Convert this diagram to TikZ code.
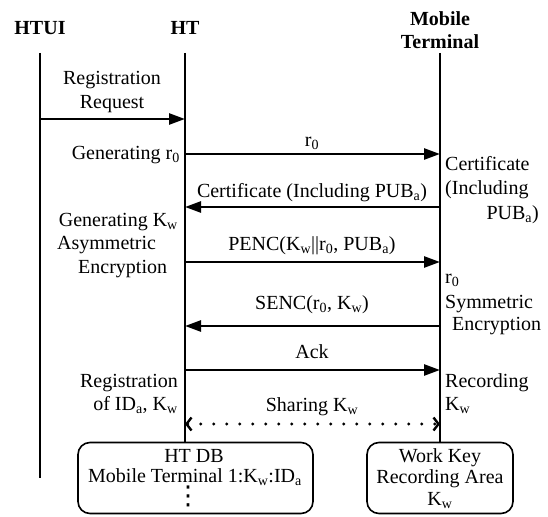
\documentclass[tikz,border=0pt]{standalone}
\usepackage{fontspec}
\setmainfont{Liberation Serif}
\newfontfamily\dvsans{DejaVu Sans}
\usetikzlibrary{arrows.meta}
\begin{document}
\begin{tikzpicture}[x=1pt,y=-1pt,
  txt/.style={inner sep=0pt,font=\fontsize{20}{24}\selectfont,text height=14pt,text depth=4pt},
  hdr/.style={inner sep=0pt,font=\fontsize{20}{24}\selectfont\bfseries,align=center},
  life/.style={line width=2.6pt},
  msg/.style={line width=2.6pt,-{Triangle[length=16pt,width=11pt]}},
  share/.style={line width=3.4pt,dash pattern=on 0pt off 13pt,line cap=round,
    {Straight Barb[length=5pt,width=13pt,line width=2.4pt]}-{Straight Barb[length=5pt,width=13pt,line width=2.4pt]}},
  dbbox/.style={draw,line width=1.6pt,rounded corners=12pt,inner sep=0pt}]
\useasboundingbox (0,0) rectangle (548,516);

% headers
\node[hdr] (htui) at (40,28) {HTUI};
\node[hdr] (ht) at (185,28) {HT};
\node[hdr] (mt) at (440,30) {Mobile\\[-1pt]Terminal};

% boxes
\node[dbbox,minimum width=235pt,minimum height=71pt] (htdb) at (195.5,478) {};
\node[dbbox,minimum width=146pt,minimum height=71pt] (wk) at (440,478) {};
\node[txt] (db1) at (194,457) {HT DB};
\node[txt] (db2) at (195,477) {Mobile Terminal 1:K\textsubscript{w}:ID\textsubscript{a}};
\node[inner sep=0pt,font=\dvsans\fontsize{26}{26}\selectfont] (db3) at (188,496) {⋮};
\node[txt] (wk1) at (440,457) {Work Key};
\node[txt] (wk2) at (440,478) {Recording Area};
\node[txt] (wk3) at (440,500) {K\textsubscript{w}};

% lifelines
\coordinate (htuiT) at (40,53);
\coordinate (htuiB) at (40,478);
\coordinate (htT) at (185,53);
\coordinate (mtT) at (440,53);
\draw[life] (htuiT) -- (htuiB);
\draw[life] (htT) -- (htT |- htdb.north);
\draw[life] (mtT) -- (mtT |- wk.north);

% message levels
\coordinate (u1) at (40,119);  \coordinate (h1) at (185,119);
\coordinate (h2) at (185,154); \coordinate (m2) at (440,154);
\coordinate (h3) at (185,207); \coordinate (m3) at (440,207);
\coordinate (h4) at (185,262); \coordinate (m4) at (440,262);
\coordinate (h5) at (185,326); \coordinate (m5) at (440,326);
\coordinate (h6) at (185,370); \coordinate (m6) at (440,370);
\coordinate (h7) at (185,424); \coordinate (m7) at (440,424);

\draw[msg] (u1) -- (h1);
\draw[msg] (h2) -- (m2);
\draw[msg] (m3) -- (h3);
\draw[msg] (h4) -- (m4);
\draw[msg] (m5) -- (h5);
\draw[msg] (h6) -- (m6);
\draw[share] (h7) -- (m7);

% message labels
\node[txt] (l1a) at (112,80) {Registration};
\node[txt] (l1b) at (112,104) {Request};
\node[txt] (l2) at (312,141) {r\textsubscript{0}};
\node[txt] (l3) at (312,192) {Certificate (Including PUB\textsubscript{a})};
\node[txt] (l4) at (312,245) {PENC(K\textsubscript{w}||r\textsubscript{0}, PUB\textsubscript{a})};
\node[txt] (l5) at (312,304) {SENC(r\textsubscript{0}, K\textsubscript{w})};
\node[txt] (l6) at (312,353) {Ack};
\node[txt] (l7) at (312,406) {Sharing K\textsubscript{w}};

% HT side notes
\node[txt,anchor=east] (n1) at (180,154) {Generating r\textsubscript{0}};
\node[txt,anchor=east] (n2) at (178,221) {Generating K\textsubscript{w}};
\node[txt,anchor=west] (n3) at (57,244) {Asymmetric};
\node[txt,anchor=west] (n4) at (78,268) {Encryption};
\node[txt,anchor=east] (n5) at (178,382) {Registration};
\node[txt,anchor=east] (n6) at (178,405) {of ID\textsubscript{a}, K\textsubscript{w}};

% Mobile terminal side notes
\node[txt,anchor=west] (r1) at (445,165) {Certificate};
\node[txt,anchor=west] (r2) at (445,189) {(Including};
\node[txt,anchor=east] (r3) at (539,214) {PUB\textsubscript{a})};
\node[txt,anchor=west] (r4) at (445,278) {r\textsubscript{0}};
\node[txt,anchor=west] (r5) at (445,303) {Symmetric};
\node[txt,anchor=west] (r6) at (452,325) {Encryption};
\node[txt,anchor=west] (r7) at (445,382) {Recording};
\node[txt,anchor=west] (r8) at (445,405) {K\textsubscript{w}};
\end{tikzpicture}
\end{document}
